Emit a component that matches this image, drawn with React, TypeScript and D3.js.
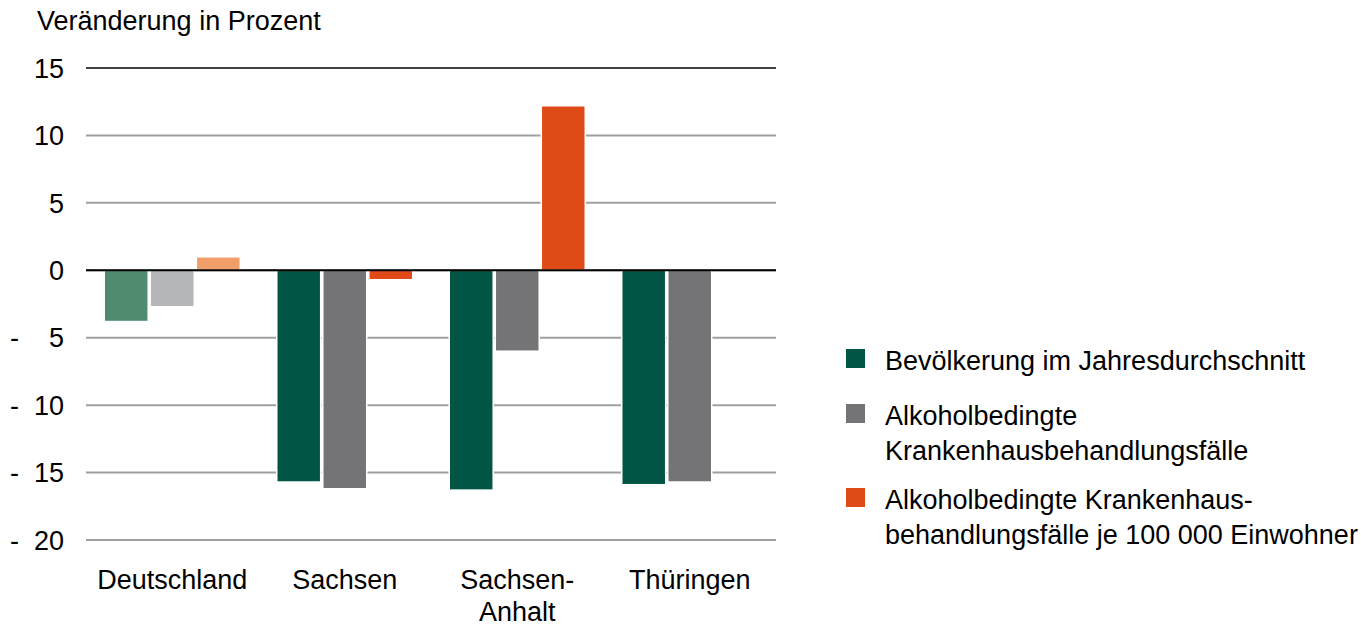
import * as d3 from "d3";
import { useEffect, useRef } from "react";

const categories = ["Deutschland", "Sachsen", "Sachsen-Anhalt", "Thüringen"];
const categoryLines = [["Deutschland"], ["Sachsen"], ["Sachsen-", "Anhalt"], ["Thüringen"]];
const seriesNames = [
  "Bevölkerung im Jahresdurchschnitt",
  "Alkoholbedingte Krankenhausbehandlungsfälle",
  "Alkoholbedingte Krankenhausbehandlungsfälle je 100 000 Einwohner",
];
const legendLines = [
  ["Bevölkerung im Jahresdurchschnitt"],
  ["Alkoholbedingte", "Krankenhausbehandlungsfälle"],
  ["Alkoholbedingte Krankenhaus-", "behandlungsfälle je 100 000 Einwohner"],
];
const bevoelkerung = [-3.8, -15.7, -16.3, -15.9];
const faelle = [-2.7, -16.2, -6.0, -15.7];
const faelleJe100000 = [1.0, -0.7, 12.2, null];
const yTicks = [15, 10, 5, 0, -5, -10, -15, -20];

const colors = ["#005544", "#747476", "#e04a16"];
const lightColors = ["#4f8b6f", "#b4b5b7", "#f29e6b"];

const App = () => {
  const svgRef = useRef<SVGSVGElement>(null);
  useEffect(() => {
    if (!svgRef.current) return;
    const svg = d3.select(svgRef.current);
    svg.selectAll("*").remove();
    const font = "'Liberation Sans', Arial, sans-serif";
    const fs = 27;
    const marginLeft = 86;
    const plotRight = 776;

    const y = d3.scaleLinear().domain([-20, 15]).range([540, 68]);
    const x0 = d3.scaleBand().domain(categories).range([marginLeft, plotRight]);
    const x1 = d3
      .scaleBand()
      .domain(seriesNames)
      .range([0, 136])
      .paddingInner(0.045);
    const groupOffset = (x0.bandwidth() - 136) / 2;

    const values = [bevoelkerung, faelle, faelleJe100000];

    // title
    svg
      .append("text")
      .attr("x", 37)
      .attr("y", 30)
      .attr("font-family", font)
      .attr("font-size", fs)
      .attr("fill", "#000")
      .text("Veränderung in Prozent");

    // grid lines
    svg
      .append("g")
      .selectAll()
      .data(yTicks)
      .join("line")
      .attr("x1", marginLeft)
      .attr("x2", plotRight)
      .attr("y1", (d) => y(d))
      .attr("y2", (d) => y(d))
      .attr("stroke", (d) => (d === 15 ? "#000" : "#a0a0a0"))
      .attr("stroke-width", (d) => (d === 15 ? 1.5 : 2));

    // y labels
    const yl = svg
      .append("g")
      .attr("font-family", font)
      .attr("font-size", fs)
      .attr("fill", "#000");
    yl.selectAll()
      .data(yTicks)
      .join("text")
      .attr("x", 64)
      .attr("y", (d) => y(d))
      .attr("dy", "0.36em")
      .attr("text-anchor", "end")
      .text((d) => Math.abs(d));
    yl.selectAll()
      .data(yTicks.filter((d) => d < 0))
      .join("text")
      .attr("x", 10)
      .attr("y", (d) => y(d))
      .attr("dy", "0.36em")
      .text("-");

    // bars
    categories.forEach((c, ci) => {
      values.forEach((series, si) => {
        const v = series[ci];
        if (v == null) return;
        svg
          .append("rect")
          .attr("x", x0(c)! + groupOffset + x1(seriesNames[si])!)
          .attr("y", y(Math.max(0, v)))
          .attr("width", x1.bandwidth())
          .attr("height", Math.abs(y(v) - y(0)))
          .attr("fill", ci === 0 ? lightColors[si] : colors[si])
          .attr("stroke", "#fff")
          .attr("stroke-width", 1.5);
      });
    });

    // zero line
    svg
      .append("line")
      .attr("x1", marginLeft)
      .attr("x2", plotRight)
      .attr("y1", y(0))
      .attr("y2", y(0))
      .attr("stroke", "#000")
      .attr("stroke-width", 2);

    // category labels
    const xl = svg
      .append("g")
      .attr("font-family", font)
      .attr("font-size", fs)
      .attr("fill", "#000")
      .attr("text-anchor", "middle");
    categories.forEach((c, ci) => {
      categoryLines[ci].forEach((line, li) => {
        xl.append("text")
          .attr("x", x0(c)! + x0.bandwidth() / 2)
          .attr("y", 589 + li * 32)
          .text(line);
      });
    });

    // legend
    const legendY = [349, 404, 488];
    const lg = svg.append("g").attr("font-family", font).attr("font-size", fs);
    seriesNames.forEach((s, si) => {
      lg.append("rect")
        .attr("x", 846)
        .attr("y", legendY[si])
        .attr("width", 19)
        .attr("height", 19)
        .attr("fill", colors[si]);
      legendLines[si].forEach((line, li) => {
        lg.append("text")
          .attr("x", 885)
          .attr("y", legendY[si] + 21 + li * 35)
          .attr("fill", "#000")
          .text(line);
      });
    });
  }, []);
  return (
    <svg
      ref={svgRef}
      width={1361}
      height={626}
      style={{ position: "absolute", left: 0, top: 0, background: "#fff" }}
    ></svg>
  );
};

export default App;
